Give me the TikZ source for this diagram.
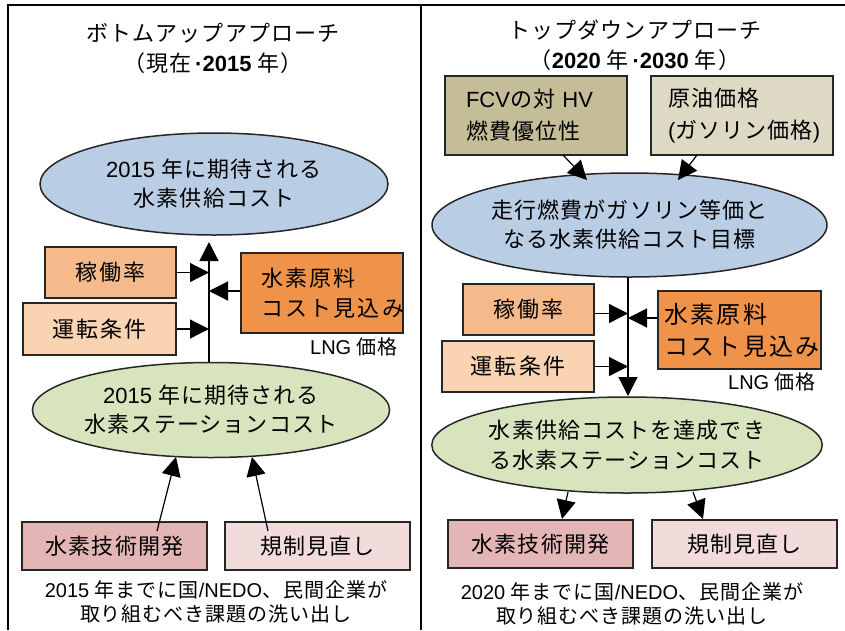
\documentclass[tikz,border=0pt]{standalone}
\usepackage{fontspec}
\setmainfont{Noto Sans CJK JP}[LetterSpace=5]
\newfontfamily\jpw{Noto Sans CJK JP}[LetterSpace=10]
\newfontfamily\lt{Liberation Sans}
\usetikzlibrary{shapes.geometric,arrows.meta}
\definecolor{cBlue}{HTML}{B9CDE5}
\definecolor{cGreen}{HTML}{D7E4BD}
\definecolor{cPeach}{HTML}{F5BA8C}
\definecolor{cPeachL}{HTML}{FAD3B2}
\definecolor{cOrange}{HTML}{F0934A}
\definecolor{cRose}{HTML}{E3B6B5}
\definecolor{cPink}{HTML}{F2DCDB}
\definecolor{cOlive}{HTML}{C4BD97}
\definecolor{cSand}{HTML}{DDD9C4}
\begin{document}
\begin{tikzpicture}[x=1pt,y=-1pt,
  box/.style={draw=black!85, line width=1.5pt, inner sep=0pt},
  ell/.style={ellipse, draw=black!85, line width=1.5pt, inner sep=0pt, align=center,
     font=\fontsize{22}{29}\selectfont},
  arr/.style={-{Triangle[length=19pt,width=19pt]}, line width=1.2pt},
  frame/.style={line width=2pt, black},
  ttl/.style={align=center, font=\fontsize{22}{30}\selectfont},
  note/.style={align=center, font=\fontsize{20}{24}\selectfont},
  bx/.style={font=\jpw\fontsize{22}{28}\selectfont}
]
\useasboundingbox (0,0) rectangle (845,630);
% frame
\coordinate (fTL) at (8,5);
\coordinate (fTR) at (845,5);
\coordinate (fBL) at (8,630);
\coordinate (fMT) at (421,5);
\coordinate (fMB) at (421,630);
\draw[frame] (fBL) -- (fTL) -- (fTR);
\draw[frame] (fMT) -- (fMB);

% ===== left panel =====
\node[ttl] (tl1) at (213,33) {ボトムアップアプローチ};
\node[ttl] (tl2) at (213,63) {（現在{\lt\bfseries\,·2015} 年）};

\node[ell, fill=cBlue, minimum width=348, minimum height=102] (bE) at (214,184)
  {{\lt 2015 }年に期待される\\水素供給コスト};
\node[ell, fill=cGreen, minimum width=348, minimum height=95] (gE) at (211,410)
  {{\lt 2015 }年に期待される\\水素ステーションコスト};

\node[box, bx, fill=cPeach, minimum width=131, minimum height=51] (kL) at (110.5,272.5) {稼働率};
\node[box, bx, fill=cPeachL, minimum width=153, minimum height=52] (uL) at (99.5,329) {運転条件};
\node[box, bx, fill=cOrange, minimum width=162, minimum height=80, align=left,
      text width=122, inner xsep=20pt, font=\jpw\fontsize{22}{30}\selectfont] (sL) at (322,293)
  {水素原料\\コスト見込み};
\node[note] (lngL) at (354,347) {{\lt LNG }価格};

\node[box, font=\fontsize{22}{28}\selectfont, fill=cRose, minimum width=185, minimum height=48] (tL) at (114.5,546) {水素技術開発};
\node[box, font=\fontsize{22}{28}\selectfont, fill=cPink, minimum width=185, minimum height=48] (rL) at (317.5,546) {規制見直し};

\node[note] (nL) at (216,602) {{\lt 2015 }年までに国{\lt /NEDO}、民間企業が\\取り組むべき課題の洗い出し};

% left connectors
\coordinate (vLb) at (209,362);
\coordinate (vLt) at (209,242);
\draw[arr] (vLb) -- (vLt);
\draw[arr] (kL.east) -- (kL.east -| vLt);
\draw[arr] (uL.east) -- (uL.east -| vLt);
\draw[arr] ([yshift=2]sL.west) -- ([yshift=2]sL.west -| vLt);
\coordinate (aL1s) at (157,531);
\coordinate (aL1e) at (176,457);
\coordinate (aL2s) at (268,531);
\coordinate (aL2e) at (252,457);
\draw[arr] (aL1s) -- (aL1e);
\draw[arr] (aL2s) -- (aL2e);

% ===== right panel =====
\node[ttl] (tr1) at (635,30) {トップダウンアプローチ};
\node[ttl] (tr2) at (635,60) {（{\lt\bfseries 2020} 年{\lt\bfseries\,·2030} 年）};

\node[box, fill=cOlive, minimum width=182, minimum height=79, align=left, text width=140,
      inner xsep=21pt, font=\fontsize{22}{32}\selectfont] (fB) at (536,115.5)
  {{\lt FCV}の対 {\lt HV}\\燃費優位性};
\node[box, fill=cSand, minimum width=182, minimum height=79, align=left, text width=148,
      inner xsep=17pt, font=\fontsize{22}{32}\selectfont] (cB) at (742,115.5)
  {原油価格\\{\lt (}ガソリン価格{\lt )}};

\node[ell, fill=cBlue, minimum width=395, minimum height=104] (bE2) at (629.5,225)
  {走行燃費がガソリン等価と\\なる水素供給コスト目標};
\node[ell, fill=cGreen, minimum width=390, minimum height=96, font=\fontsize{22}{30}\selectfont] (gE2) at (627,445)
  {水素供給コストを達成でき\\る水素ステーションコスト};

\node[box, bx, fill=cPeach, minimum width=131, minimum height=51] (kR) at (528.5,309.5) {稼働率};
\node[box, bx, fill=cPeachL, minimum width=152, minimum height=51] (uR) at (518,366.5) {運転条件};
\node[box, fill=cOrange, minimum width=163, minimum height=78, align=left,
      text width=151, inner xsep=6pt, font=\jpw\fontsize{24}{32}\selectfont] (sR) at (739.5,330)
  {水素原料\\コスト見込み};
\node[note] (lngR) at (772,382) {{\lt LNG }価格};

\node[box, font=\fontsize{22}{28}\selectfont, fill=cRose, minimum width=185, minimum height=48] (tR) at (540.5,544) {水素技術開発};
\node[box, font=\fontsize{22}{28}\selectfont, fill=cPink, minimum width=185, minimum height=48] (rR) at (744.5,544) {規制見直し};

\node[note] (nR) at (632,604) {{\lt 2020 }年までに国{\lt /NEDO}、民間企業が\\取り組むべき課題の洗い出し};

% right connectors
\coordinate (aR1s) at (563,155);
\coordinate (aR1e) at (587,180);
\coordinate (aR2s) at (697,155);
\coordinate (aR2e) at (678,180);
\draw[arr] (aR1s) -- (aR1e);
\draw[arr] (aR2s) -- (aR2e);
\coordinate (vRt) at (628,277);
\coordinate (vRb) at (628,396);
\draw[arr] (vRt) -- (vRb);
\draw[arr] ([yshift=-4]kR.east) -- ([yshift=-4]kR.east -| vRt);
\draw[arr] (uR.east) -- (uR.east -| vRt);
\draw[arr] ([yshift=12]sR.west) -- ([yshift=12]sR.west -| vRt);
\coordinate (aR3s) at (568,492);
\coordinate (aR3e) at (562,519);
\coordinate (aR4s) at (693,492);
\coordinate (aR4e) at (703,519);
\draw[arr] (aR3s) -- (aR3e);
\draw[arr] (aR4s) -- (aR4e);
\end{tikzpicture}
\end{document}
